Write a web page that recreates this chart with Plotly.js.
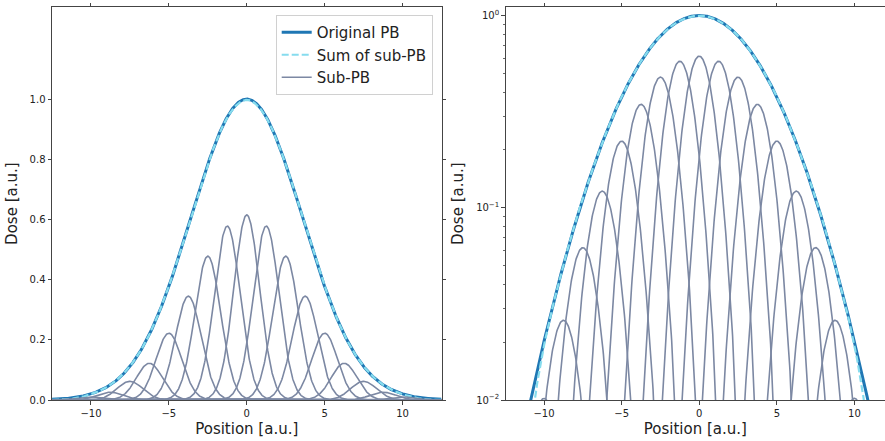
<!DOCTYPE html>
<html><head><meta charset="utf-8">
<script src="https://cdn.plot.ly/plotly-3.0.1.min.js"></script>
<style>html,body{margin:0;padding:0;background:#fff}#chart{width:885px;height:441px}</style>
</head><body><div id="chart"></div>
<script>
// Sub pencil-beam parameters
const subCenters = [-10, -8.75, -7.5, -6.25, -5, -3.75, -2.5, -1.25, 0, 1.25, 2.5, 3.75, 5, 6.25, 7.5, 8.75, 10];
const subPeaks   = [0.0102, 0.026, 0.062, 0.122, 0.222, 0.345, 0.478, 0.578, 0.615, 0.578, 0.478, 0.345, 0.222, 0.122, 0.062, 0.026, 0.0102];
const subSigma = 0.83;
// Original pencil beam
const pbPeak = 1.0;
const pbSigma = 3.58;
// Tick labels
const xTickVals = [-10, -5, 0, 5, 10];
const yTickValsLin = [0, 0.2, 0.4, 0.6, 0.8, 1.0];
const yTickValsLog = [0.01, 0.1, 1];
const yTickTextLog = ['10<sup>−2</sup>', '10<sup>−1</sup>', '10<sup>0</sup>'];
const yMinorLog = [0.02,0.03,0.04,0.05,0.06,0.07,0.08,0.09,0.2,0.3,0.4,0.5,0.6,0.7,0.8,0.9];
const names = ['Original PB', 'Sum of sub-PB', 'Sub-PB'];

// sampling grid
const xs = [];
for (let i = 0; i <= 1000; i++) xs.push(-12.5 + i * 0.025);
const gauss = (a, c, s) => xs.map(x => a * Math.exp(-(x - c) * (x - c) / (2 * s * s)));
const subCurves = subCenters.map((c, i) => gauss(subPeaks[i], c, subSigma));
const sumCurve = xs.map((_, k) => subCurves.reduce((acc, cur) => acc + cur[k], 0));
const pbCurve = gauss(pbPeak, 0, pbSigma);

const colPB = '#1f77b4', colSum = '#86dcee', colSub = '#7c88a3';
const traces = [];
[['x','y'],['x2','y2']].forEach(([xa, ya], p) => {
  traces.push({x: xs, y: pbCurve, xaxis: xa, yaxis: ya, mode: 'lines', name: names[0],
    line: {color: colPB, width: 3}, showlegend: p === 0, legendrank: 1});
  traces.push({x: xs, y: sumCurve, xaxis: xa, yaxis: ya, mode: 'lines', name: names[1],
    line: {color: colSum, width: 2.2, dash: '7px,3px'}, showlegend: p === 0, legendrank: 2});
  subCurves.forEach((cv, i) => traces.push({x: xs, y: cv, xaxis: xa, yaxis: ya, mode: 'lines', name: names[2],
    line: {color: colSub, width: 1.6}, showlegend: p === 0 && i === 0, legendrank: 3}));
});

const font = {family: 'DejaVu Sans', size: 10, color: '#222'};
const titleFont = {family: 'DejaVu Sans', size: 15, color: '#222'};
const axLine = '#444';
const yDom = [1 - 400/441, 1 - 7.3/441];
const xBase = {
  tickvals: xTickVals, ticks: 'outside', ticklen: 3.5, tickwidth: 1, tickcolor: axLine,
  showline: true, linecolor: axLine, linewidth: 1, mirror: 'ticks', showgrid: false, zeroline: false,
  tickfont: font, title: {text: 'Position [a.u.]', font: titleFont, standoff: 5}
};
const layout = {
  width: 885, height: 441, margin: {l: 0, r: 0, t: 0, b: 0},
  paper_bgcolor: '#fff', plot_bgcolor: '#fff', font: font,
  xaxis: Object.assign({}, xBase, {domain: [52/885, 441.5/885], range: [-12.5, 12.5], anchor: 'y'}),
  yaxis: {domain: yDom, range: [0, 1.305], tickvals: yTickValsLin, tickformat: '.1f',
    ticks: 'outside', ticklen: 3.5, tickwidth: 1, tickcolor: axLine,
    showline: true, linecolor: axLine, linewidth: 1, mirror: 'ticks', showgrid: false, zeroline: false,
    tickfont: font, title: {text: 'Dose [a.u.]', font: titleFont, standoff: 8}, anchor: 'x'},
  xaxis2: Object.assign({}, xBase, {domain: [505.7/885, 1], range: [-12.47, 11.97], anchor: 'y2'}),
  yaxis2: {domain: yDom, type: 'log', range: [-2, 0.0426], tickvals: yTickValsLog, ticktext: yTickTextLog,
    ticks: 'outside', ticklen: 3.5, tickwidth: 1, tickcolor: axLine,
    minor: {tickvals: yMinorLog, ticks: 'outside', ticklen: 2, tickwidth: 0.8, tickcolor: axLine, showgrid: false},
    showline: true, linecolor: axLine, linewidth: 1, mirror: false, showgrid: false, zeroline: false,
    tickfont: font, title: {text: 'Dose [a.u.]', font: titleFont, standoff: 8}, anchor: 'x2'},
  showlegend: true,
  legend: {x: 432.7/885, xanchor: 'right', y: 1 - 15/441, yanchor: 'top',
    bgcolor: 'rgba(255,255,255,0.85)', bordercolor: '#d0d0d0', borderwidth: 1,
    font: {family: 'DejaVu Sans', size: 15, color: '#222'}, traceorder: 'normal'}
};
Plotly.newPlot('chart', traces, layout, {displayModeBar: false, staticPlot: true});
</script>
</body></html>
